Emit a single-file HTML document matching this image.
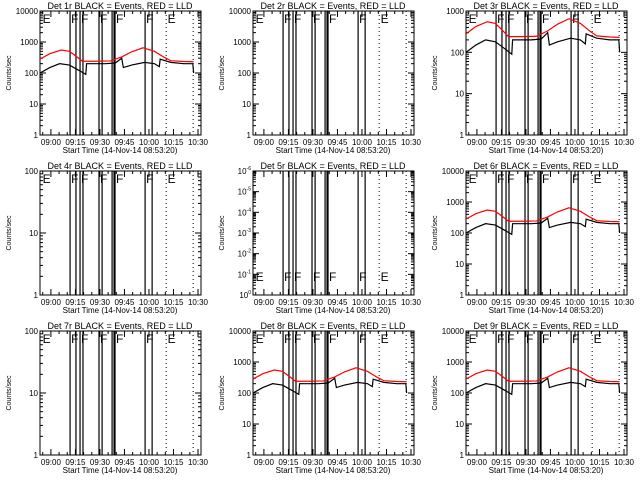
<!DOCTYPE html>
<html><head><meta charset="utf-8"><style>
html,body{margin:0;padding:0;background:#fff;}
svg{display:block;font-family:"Liberation Sans",sans-serif;}
</style></head><body>
<svg id="c" width="640" height="480" viewBox="0 0 640 480"></svg>
<script>
// minutes since 08:53:20
const blackT = [0,6,12,18,24,28,28.5,40,46,50,51,56,64,70,73,73.5,80,88,93.5,94];
const blackV = [100,150,200,180,120,90,200,200,210,300,150,180,220,200,160,280,220,200,200,100];
const redT = [0,6,13,18,22,26,35,43,50,56,63,70,76,80,88,94];
const redV = [280,420,550,500,350,240,240,245,330,480,650,500,320,250,235,230];
const eventLines = [18.4,22,24.5,26.3,36.1,38,44.1,45.3,45.9,64.3,68.6];
const dottedLines = [77.2,93.7];
const markerT = [1,18.4,24.5,36.1,45.9,64.3,77.5];
const markerL = ["E","F","F","F","F","F","E"];
const xTickLabels = ["09:00","09:15","09:30","09:45","10:00","10:15","10:30"];
const xTickMin = [6.67,21.67,36.67,51.67,66.67,81.67,96.67];
const panelTitles = ["Det 1r BLACK = Events, RED = LLD","Det 2r BLACK = Events, RED = LLD","Det 3r BLACK = Events, RED = LLD","Det 4r BLACK = Events, RED = LLD","Det 5r BLACK = Events, RED = LLD","Det 6r BLACK = Events, RED = LLD","Det 7r BLACK = Events, RED = LLD","Det 8r BLACK = Events, RED = LLD","Det 9r BLACK = Events, RED = LLD"];
const panelDecades = [4,4,3,2,6,4,2,4,4];
const panelCurves = [1,0,1,0,0,1,0,1,1];

const svg=document.getElementById('c');
const NS="http://www.w3.org/2000/svg";
function mk(tag,attrs,parent){const e=document.createElementNS(NS,tag);for(const k in attrs)e.setAttribute(k,attrs[k]);(parent||svg).appendChild(e);return e;}

for(let p=0;p<9;p++){
  const ox=(p%3)*213, oy=Math.floor(p/3)*160;
  const L=ox+40,R=ox+201,T=oy+11,B=oy+135;
  const dec=panelDecades[p];
  const g=mk('g',{});
  
  
  const xs=t=>L+t*(R-L)/98.5;
  const ys=v=>B-(Math.log10(v))*(B-T)/dec;
  const ti=mk('text',{x:ox+120,y:oy+9,'font-size':'9','text-anchor':'middle',fill:'#000'},g);
  ti.textContent=panelTitles[p];
  
  
  const fr=mk('rect',{x:L,y:T,width:R-L,height:B-T,fill:'none',stroke:'#000','stroke-width':1},g);
  
  
  const yl=mk('text',{x:0,y:0,'font-size':'7','text-anchor':'middle',transform:`translate(${ox+11},${oy+73}) rotate(-90)`},g);
  yl.textContent='Counts/sec';
  
  
  for(let d=0;d<=dec;d++){
    const y=B-d*(B-T)/dec;
    mk('line',{x1:L,x2:L+6,y1:y,y2:y,stroke:'#000'},g);
    mk('line',{x1:R-6,x2:R,y1:y,y2:y,stroke:'#000'},g);
    const t=mk('text',{x:L-2,y:y+3,'font-size':'8','text-anchor':'end'},g);
    if(p===4){t.textContent='10';const s=mk('tspan',{dy:-4,'font-size':'5'},t);s.textContent=d===0?'0':'-'+d;}
    else t.textContent=String(Math.pow(10,d));
    
    
    if(d<dec)for(let m=2;m<10;m++){const yy=y-Math.log10(m)*(B-T)/dec;
      mk('line',{x1:L,x2:L+3,y1:yy,y2:yy,stroke:'#000'},g);mk('line',{x1:R-3,x2:R,y1:yy,y2:yy,stroke:'#000'},g);}
  }
  for(let m=0;m<98;m+=5){const tt=m+1.67;const x=xs(tt);const maj=(Math.round(tt-6.67)%15===0);
    mk('line',{x1:x,x2:x,y1:B,y2:B-(maj?6:3),stroke:'#000'},g);mk('line',{x1:x,x2:x,y1:T,y2:T+(maj?6:3),stroke:'#000'},g);}
  xTickLabels.forEach((lab,i)=>{const t=mk('text',{x:xs(xTickMin[i]),y:B+10,'font-size':'8','text-anchor':'middle'},g);t.textContent=lab;
    
    });
  const xt=mk('text',{x:ox+120,y:oy+153,'font-size':'8','text-anchor':'middle'},g);
  xt.textContent='Start Time (14-Nov-14 08:53:20)';
  
  
  eventLines.forEach(t=>{const l=mk('line',{x1:xs(t),x2:xs(t),y1:T,y2:B,stroke:'#000','stroke-width':1.2},g);
    
    });
  dottedLines.forEach(t=>{const l=mk('line',{x1:xs(t),x2:xs(t),y1:T,y2:B,stroke:'#000','stroke-dasharray':'1,3'},g);
    
    });
  markerT.forEach((t,i)=>{const my=p===4?B-14:T+12;const m=mk('text',{x:xs(t)+1,y:my,'font-size':'12','font-weight':'100'},g);m.textContent=markerL[i];
    
    });
  if(panelCurves[p]){
    const rp=redT.map((t,i)=>xs(t)+','+ys(redV[i])).join(' ');
    const r=mk('polyline',{points:rp,fill:'none',stroke:'#ff0000','stroke-width':1.2},g);
    
    
    const bp=blackT.map((t,i)=>xs(t)+','+ys(blackV[i])).join(' ');
    const b=mk('polyline',{points:bp,fill:'none',stroke:'#000','stroke-width':1.2},g);
    
    
  }
}
</script>
</body></html>
